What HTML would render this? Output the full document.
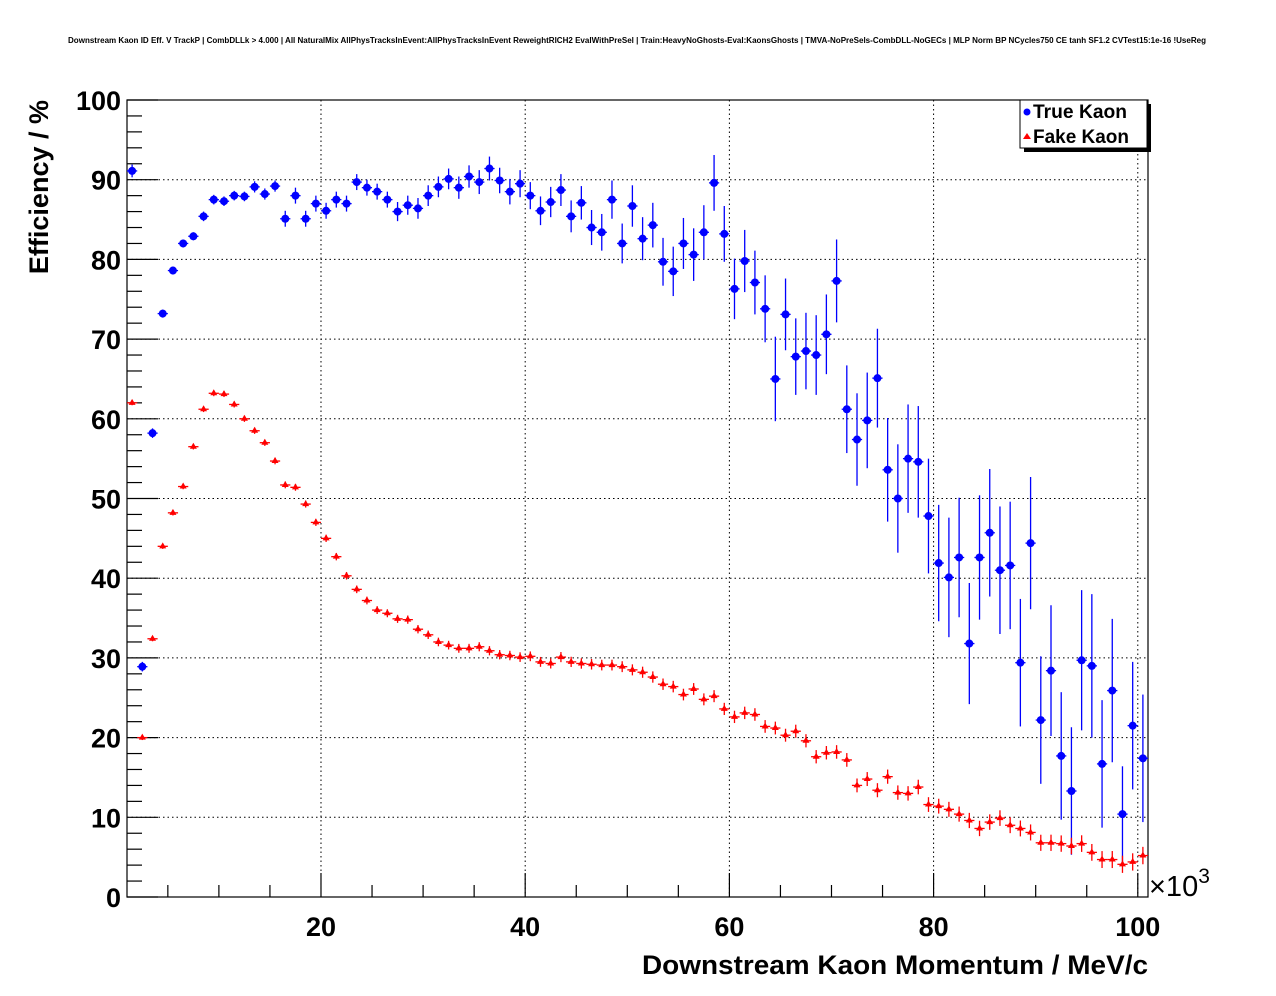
<!DOCTYPE html>
<html><head><meta charset="utf-8"><style>
body{margin:0;background:#fff;}
svg{display:block;font-family:"Liberation Sans",sans-serif;}
</style></head><body>
<svg id="c" width="1276" height="996" xmlns="http://www.w3.org/2000/svg">
<text x="637" y="43" font-size="8" font-weight="bold" text-anchor="middle" textLength="1138" lengthAdjust="spacingAndGlyphs">Downstream Kaon ID Eff. V TrackP | CombDLLk &gt; 4.000 | All NaturalMix AllPhysTracksInEvent:AllPhysTracksInEvent ReweightRICH2 EvalWithPreSel | Train:HeavyNoGhosts-Eval:KaonsGhosts | TMVA-NoPreSels-CombDLL-NoGECs | MLP Norm BP NCycles750 CE tanh SF1.2 CVTest15:1e-16 !UseReg</text>
<g id="grid"></g><g id="axes"></g><g id="marks"></g>
<text x="642" y="974" font-size="27" font-weight="bold" textLength="506" lengthAdjust="spacingAndGlyphs">Downstream Kaon Momentum / MeV/c</text>
<text transform="translate(48,100) rotate(-90)" font-size="27" font-weight="bold" text-anchor="end">Efficiency / %</text>
<text x="1149" y="896" font-size="29">×10<tspan dy="-13" font-size="21">3</tspan></text>
<g>
<rect x="1024" y="104" width="127" height="48" fill="#000"/>
<rect x="1020" y="100" width="127" height="48" fill="#fff" stroke="#000" stroke-width="1"/>
<circle cx="1027" cy="112" r="3.5" fill="#00f"/>
<text x="1033" y="118" font-size="19" font-weight="bold" textLength="94" lengthAdjust="spacingAndGlyphs">True Kaon</text>
<polygon points="1027,133 1023,139 1031,139" fill="#f00"/>
<text x="1033" y="143" font-size="19" font-weight="bold" textLength="96" lengthAdjust="spacingAndGlyphs">Fake Kaon</text>
</g>
</svg>
<script>
const trueVals=[91.1,28.9,58.2,73.2,78.6,82.0,82.9,85.4,87.5,87.3,88.0,87.9,89.1,88.2,89.2,85.1,88.0,85.1,87.0,86.1,87.5,87.0,89.7,89.0,88.5,87.5,86.0,86.8,86.4,88.0,89.1,90.1,89.0,90.4,89.7,91.4,89.9,88.5,89.5,88.0,86.1,87.2,88.7,85.4,87.1,84.0,83.4,87.5,82.0,86.7,82.6,84.3,79.7,78.5,82.0,80.6,83.4,89.6,83.2,76.3,79.8,77.1,73.8,65.0,73.1,67.8,68.5,68.0,70.6,77.3,61.2,57.4,59.8,65.1,53.6,50.0,55.0,54.6,47.8,41.9,40.1,42.6,31.8,42.6,45.7,41.0,41.6,29.4,44.4,22.2,28.4,17.7,13.3,29.7,29.0,16.7,25.9,10.4,21.5,17.4];
const trueErr=[0.8,0.6,0.6,0.5,0.5,0.5,0.5,0.6,0.6,0.6,0.6,0.6,0.7,0.7,0.7,1.0,1.0,1.0,1.0,1.0,1.0,1.0,1.0,1.0,1.0,1.0,1.2,1.2,1.3,1.3,1.3,1.3,1.4,1.4,1.5,1.5,1.6,1.6,1.7,1.7,1.8,1.9,2.0,2.0,2.1,2.2,2.3,2.4,2.5,2.6,2.7,2.8,3.0,3.1,3.2,3.3,3.4,3.5,3.5,3.8,3.9,4.0,4.2,5.3,4.5,4.8,4.8,5.0,5.0,5.2,5.5,5.8,6.0,6.2,6.5,6.8,6.8,7.0,7.2,7.3,7.5,7.5,7.6,7.8,8.0,8.0,8.0,8.0,8.3,8.0,8.2,8.0,8.0,8.8,9.0,8.0,9.0,6.0,8.0,8.0];
const fakeVals=[62.0,20.0,32.4,44.0,48.2,51.5,56.5,61.2,63.2,63.1,61.8,60.0,58.5,57.0,54.7,51.7,51.4,49.3,47.0,45.0,42.7,40.3,38.6,37.2,36.0,35.6,34.9,34.8,33.6,32.9,32.0,31.6,31.2,31.2,31.4,30.9,30.4,30.3,30.1,30.2,29.5,29.3,30.1,29.5,29.3,29.2,29.1,29.1,28.9,28.5,28.2,27.6,26.7,26.4,25.4,26.1,24.8,25.2,23.6,22.6,23.1,22.9,21.4,21.2,20.3,20.8,19.6,17.6,18.1,18.2,17.2,14.0,14.8,13.4,15.1,13.1,13.0,13.8,11.6,11.4,11.0,10.4,9.6,8.6,9.4,9.9,9.0,8.6,8.1,6.8,6.8,6.7,6.4,6.7,5.6,4.7,4.7,4.1,4.4,5.2];
const xTicks=[20,40,60,80,100];
const yTicks=[0,10,20,30,40,50,60,70,80,90,100];
const X0=1,X1=101,PL=127,PR=1148,PT=100,PB=897;
const sx=v=>PL+(v-X0)/(X1-X0)*(PR-PL);
const sy=v=>PB-v/100*(PB-PT);
const NS="http://www.w3.org/2000/svg";
function mk(tag,attrs,parent){const e=document.createElementNS(NS,tag);for(const k in attrs)e.setAttribute(k,attrs[k]);parent.appendChild(e);return e;}
const G=document.getElementById('grid'),A=document.getElementById('axes'),M=document.getElementById('marks');
xTicks.forEach(t=>{const l=mk('line',{x1:sx(t),x2:sx(t),y1:PT,y2:PB,stroke:'#000','stroke-dasharray':'1.5,3','stroke-width':1},G);

});
yTicks.forEach(t=>{if(t==0||t==100)return;const l=mk('line',{x1:PL,x2:PR,y1:sy(t),y2:sy(t),stroke:'#000','stroke-dasharray':'1.5,3','stroke-width':1},G);

});
const fr=mk('rect',{x:PL,y:PT,width:PR-PL,height:PB-PT,fill:'none',stroke:'#000','stroke-width':1.2},A);


for(let v=5;v<=100;v+=5){const maj=v%20==0;mk('line',{x1:sx(v),x2:sx(v),y1:PB,y2:PB-(maj?24:12),stroke:'#000','stroke-width':1.2},A);}
for(let v=0;v<=100;v+=2){const maj=v%10==0;mk('line',{x1:PL,x2:PL+(maj?31:15),y1:sy(v),y2:sy(v),stroke:'#000','stroke-width':1.2},A);}
xTicks.forEach(t=>{const e=mk('text',{x:sx(t),y:936,'font-size':27,'font-weight':'bold','text-anchor':'middle'},A);e.textContent=t;

});
yTicks.forEach(t=>{const e=mk('text',{x:121,y:sy(t)+10,'font-size':27,'font-weight':'bold','text-anchor':'end'},A);e.textContent=t;

});
const hw=(sx(2)-sx(1))/2;
trueVals.forEach((v,i)=>{const cx=sx(X0+i+0.5),cy=sy(v),e=trueErr[i];
const g=mk('g',{},M);


mk('line',{x1:cx,x2:cx,y1:sy(v+e),y2:sy(v-e),stroke:'#00f','stroke-width':1.3},g);
mk('line',{x1:cx-hw,x2:cx+hw,y1:cy,y2:cy,stroke:'#00f','stroke-width':1.3},g);
mk('circle',{cx:cx,cy:cy,r:4,fill:'#00f'},g);});
fakeVals.forEach((v,i)=>{const cx=sx(X0+i+0.5),cy=sy(v),e=0.3+i*0.008;
const g=mk('g',{},M);


mk('line',{x1:cx,x2:cx,y1:sy(v+e),y2:sy(v-e),stroke:'#f00','stroke-width':1.3},g);
mk('line',{x1:cx-hw,x2:cx+hw,y1:cy,y2:cy,stroke:'#f00','stroke-width':1.3},g);
mk('polygon',{points:`${cx},${cy-4} ${cx-3.5},${cy+2} ${cx+3.5},${cy+2}`,fill:'#f00'},g);});
</script>
</body></html>
